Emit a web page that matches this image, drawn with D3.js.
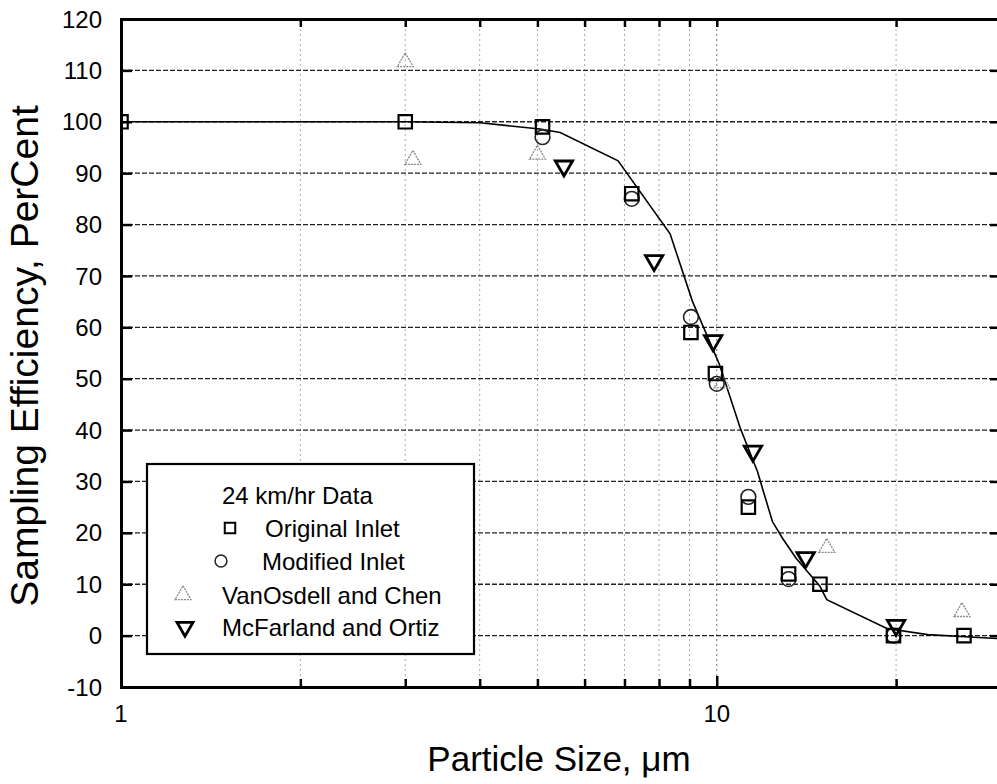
<!DOCTYPE html>
<html><head><meta charset="utf-8">
<script src="https://cdn.jsdelivr.net/npm/d3@7"></script>
<style>body{margin:0;background:#fff}svg{display:block}text{font-family:"Liberation Sans",Arial,sans-serif;fill:#000}</style>
</head><body><div id="chart"></div>
<script>
// ---- data ----
const originalInlet = [[1,100],[3,100],[5.1,99],[7.2,86],[9.05,59],[9.95,51],[11.3,25],[13.2,12],[14.9,10],[19.8,0],[26,0]];
const modifiedInlet = [[5.1,97],[7.2,85],[9.05,62],[10,49],[11.3,27],[13.2,11],[19.8,0]];
const vanOsdellChen = [[3,112],[3.09,93],[5.0,94],[10.2,49.5],[15.3,17.5],[25.8,5]];
const mcFarlandOrtiz = [[5.54,91],[7.85,72.6],[9.86,57],[11.5,35.5],[14.1,14.8],[20,1.6]];
const fitCurve = [[1,100],[3,100],[4,99.8],[5.05,98.6],[5.46,97.9],[6.83,92.4],[8.35,78.2],[9.1,65.1],[10.1,52.8],[10.95,40.4],[11.7,32],[12.4,22.2],[12.9,18.9],[13.6,15],[14.9,9.6],[15.3,7],[19.3,1.4],[22.6,0.2],[30,-0.6]];
const yTicks = [-10,0,10,20,30,40,50,60,70,80,90,100,110,120];
const xGrid = [2,3,4,5,6,7,8,9,10,20,30];
const xLabels = [1,10];
const legendTitle = "24 km/hr Data";
const legendNames = ["Original Inlet","Modified Inlet","VanOsdell and Chen","McFarland and Ortiz"];

const W=997,H=784;
const L=121,R=1001,T=19,B=687;
const svg=d3.select("#chart").append("svg").attr("width",W).attr("height",H);
const x=d3.scaleLog().domain([1,30]).range([L,R]);
const y=d3.scaleLinear().domain([-10,120]).range([B,T]);

svg.append("defs").append("clipPath").attr("id","clip").append("rect").attr("x",L).attr("y",T).attr("width",R-L).attr("height",B-T);

// vertical grid
svg.append("g").selectAll("line").data(xGrid).join("line")
  .attr("x1",d=>x(d)).attr("x2",d=>x(d)).attr("y1",T).attr("y2",B)
  .attr("stroke",d=>d===10?"#777":"#aaa").attr("stroke-width",1).attr("stroke-dasharray","2,3");
// horizontal grid
svg.append("g").selectAll("line").data(yTicks.filter(d=>d>-10&&d<120)).join("line")
  .attr("x1",L).attr("x2",R).attr("y1",d=>y(d)).attr("y2",d=>y(d))
  .attr("stroke","#222").attr("stroke-width",1.3).attr("stroke-dasharray","5,2");

// axes via d3 axis generators (ticks inward)
const yl=svg.append("g").attr("transform",`translate(${L},0)`)
  .call(d3.axisRight(y).tickValues(yTicks).tickSize(11).tickFormat(""));
const yr=svg.append("g").attr("transform",`translate(${R},0)`)
  .call(d3.axisLeft(y).tickValues(yTicks).tickSize(11).tickFormat(""));
const xb=svg.append("g").attr("transform",`translate(0,${B})`)
  .call(d3.axisTop(x).tickValues(xGrid.concat([1])).tickSize(8).tickFormat(""));
const xt=svg.append("g").attr("transform",`translate(0,${T})`)
  .call(d3.axisBottom(x).tickValues(xGrid.concat([1])).tickSize(8).tickFormat(""));
[yl,yr,xb,xt].forEach(g=>{g.select(".domain").attr("stroke","#000").attr("stroke-width",3);
  g.selectAll(".tick line").attr("stroke","#000").attr("stroke-width",2.5);});
xb.selectAll(".tick line").attr("y2",d=>(d===1||d===10)?-11:-8);

// tick labels
svg.append("g").selectAll("text").data(yTicks).join("text")
  .attr("x",102).attr("y",d=>y(d)).attr("dy","0.36em").attr("text-anchor","end")
  .style("font-size","24px").text(d=>d);
svg.append("g").selectAll("text").data(xLabels).join("text")
  .attr("x",d=>x(d)).attr("y",713).attr("dy","0.36em").attr("text-anchor","middle")
  .style("font-size","24px").text(d=>d);

// axis titles
svg.append("text").attr("x",559).attr("y",771).attr("text-anchor","middle")
  .style("font-size","35px").text("Particle Size, \u03BCm");
svg.append("text").attr("transform","translate(38,356) rotate(-90)").attr("text-anchor","middle")
  .style("font-size","39px").text("Sampling Efficiency, PerCent");

const plot=svg.append("g").attr("clip-path","url(#clip)");
// curve
plot.append("path").datum(fitCurve)
  .attr("d",d3.line().x(d=>x(d[0])).y(d=>y(d[1])))
  .attr("fill","none").attr("stroke","#000").attr("stroke-width",1.6);

const sq=d3.symbol().type(d3.symbolSquare);
const ci=d3.symbol().type(d3.symbolCircle);
const tri=d3.symbol().type(d3.symbolTriangle);
// markers
plot.append("g").selectAll("path").data(vanOsdellChen).join("path")
  .attr("transform",d=>`translate(${x(d[0])},${y(d[1])+2})`).attr("d",tri.size(110)())
  .attr("fill","none").attr("stroke","#888").attr("stroke-width",1.3).attr("stroke-dasharray","2,1");
plot.append("g").selectAll("path").data(modifiedInlet).join("path")
  .attr("transform",d=>`translate(${x(d[0])},${y(d[1])})`).attr("d",ci.size(170)())
  .attr("fill","none").attr("stroke","#222").attr("stroke-width",1.6);
plot.append("g").selectAll("path").data(originalInlet).join("path")
  .attr("transform",d=>`translate(${x(d[0])},${y(d[1])})`).attr("d",sq.size(180)())
  .attr("fill","none").attr("stroke","#000").attr("stroke-width",2.2);
plot.append("g").selectAll("path").data(mcFarlandOrtiz).join("path")
  .attr("transform",d=>`translate(${x(d[0])},${y(d[1])-2}) rotate(180)`).attr("d",tri.size(130)())
  .attr("fill","none").attr("stroke","#000").attr("stroke-width",2.8);

// legend
const lg=svg.append("g");
lg.append("rect").attr("x",147).attr("y",464).attr("width",327).attr("height",190)
  .attr("fill","#fff").attr("stroke","#000").attr("stroke-width",2.2);
lg.append("text").attr("x",222).attr("y",495).attr("dy","0.36em").style("font-size","24px").text(legendTitle);
const rows=[
 {name:legendNames[0],sx:230,tx:265,yy:528,draw:g=>g.attr("d",sq.size(110)()).attr("stroke","#000").attr("stroke-width",2)},
 {name:legendNames[1],sx:221,tx:262,yy:561,draw:g=>g.attr("d",ci.size(110)()).attr("stroke","#222").attr("stroke-width",1.5)},
 {name:legendNames[2],sx:183,tx:222,yy:595,draw:g=>g.attr("d",tri.size(110)()).attr("stroke","#888").attr("stroke-width",1.3).attr("stroke-dasharray","2,1")},
 {name:legendNames[3],sx:185,tx:222,yy:627,draw:g=>g.attr("d",tri.size(110)()).attr("stroke","#000").attr("stroke-width",2.8).attr("transform",`translate(185,627) rotate(180)`)}
];
rows.forEach((r,i)=>{
  const p=lg.append("path").attr("fill","none").attr("transform",`translate(${r.sx},${r.yy})`);
  r.draw(p);
  lg.append("text").attr("x",r.tx).attr("y",r.yy).attr("dy","0.36em").style("font-size","24px").text(r.name);
});
</script></body></html>
